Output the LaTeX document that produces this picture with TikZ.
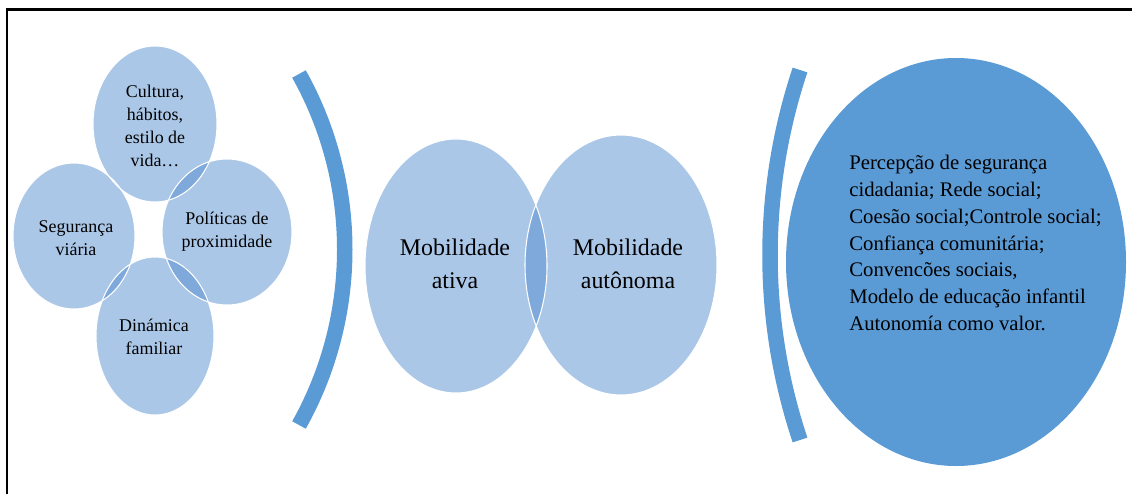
\documentclass[tikz,border=0pt]{standalone}
\usepackage{fontspec}
\setmainfont{Liberation Serif}
\definecolor{bubblefill}{RGB}{171,199,232}
\definecolor{lensfill}{RGB}{126,169,218}
\definecolor{bracketblue}{RGB}{91,155,213}
\begin{document}
\begin{tikzpicture}
[x=0.02cm, y=-0.02cm,
bubble/.style={fill=bubblefill},
lens/.style={fill=lensfill},
rim/.style={draw=white, line width=0.6pt},
bracket/.style={draw=bracketblue, line width=0.31cm},
smalltxt/.style={align=center, inner sep=0pt, font=\fontsize{10.2}{13}\selectfont},
midtxt/.style={align=center, inner sep=0pt, font=\fontsize{13.6}{18.7}\selectfont},
listtxt/.style={align=left, inner sep=0pt, font=\fontsize{11.8}{15.3}\selectfont}]

\useasboundingbox (0,0) rectangle (1132,494);
\draw[line width=1.4pt] (7,494) -- (7,9.5) -- (1132,9.5);

% circles
\foreach \cx/\cy/\rx/\ry in {155/124/62/78, 227/232/65/73, 155/336/59/79, 74/236/61/73,
                             456/266/91/127, 621/265/96/130}
  \fill[bubble] (\cx,\cy) ellipse [x radius=\rx, y radius=\ry];

% darker overlaps
\foreach \ax/\ay/\arx/\ary/\bx/\by/\brx/\bry in {155/124/62/78/227/232/65/73,
                                                 227/232/65/73/155/336/59/79,
                                                 155/336/59/79/74/236/61/73,
                                                 456/266/91/127/621/265/96/130} {
  \begin{scope}
    \clip (\ax,\ay) ellipse [x radius=\arx, y radius=\ary];
    \fill[lens] (\bx,\by) ellipse [x radius=\brx, y radius=\bry];
  \end{scope}
}

\foreach \cx/\cy/\rx/\ry in {155/124/62/78, 227/232/65/73, 155/336/59/79, 74/236/61/73,
                             456/266/91/127, 621/265/96/130}
  \draw[rim] (\cx,\cy) ellipse [x radius=\rx, y radius=\ry];

\node[smalltxt] (cultura) at (155,126) {Cultura,\\hábitos,\\estilo de\\vida…};
\node[smalltxt] (politicas) at (227,232) {Políticas de\\proximidade};
\node[smalltxt] (dinamica) at (154,337) {Dinámica\\familiar};
\node[smalltxt] (seguranca) at (76,238) {Segurança\\viária};

\node[midtxt] (ativa) at (455,264) {Mobilidade\\ativa};
\node[midtxt] (autonoma) at (628,264) {Mobilidade\\autônoma};

% brackets
\coordinate (lbtop) at (299,74);
\coordinate (lbbot) at (299,425);
\draw[bracket] (lbtop) .. controls (360,183) and (360,316) .. (lbbot);

\coordinate (rbtop) at (800,70);
\coordinate (rbbot) at (800,440);
\draw[bracket] (rbtop) .. controls (760,190) and (760,320) .. (rbbot);

\fill[bracketblue] (956,262) ellipse [x radius=170, y radius=204];
\node[listtxt, anchor=west] (percepcao) at (849,243)
  {Percepção de segurança\\cidadania; Rede social;\\Coesão social;Controle social;\\Confiança comunitária;\\Convencões sociais,\\Modelo de educação infantil\\Autonomía como valor.};
\end{tikzpicture}
\end{document}
